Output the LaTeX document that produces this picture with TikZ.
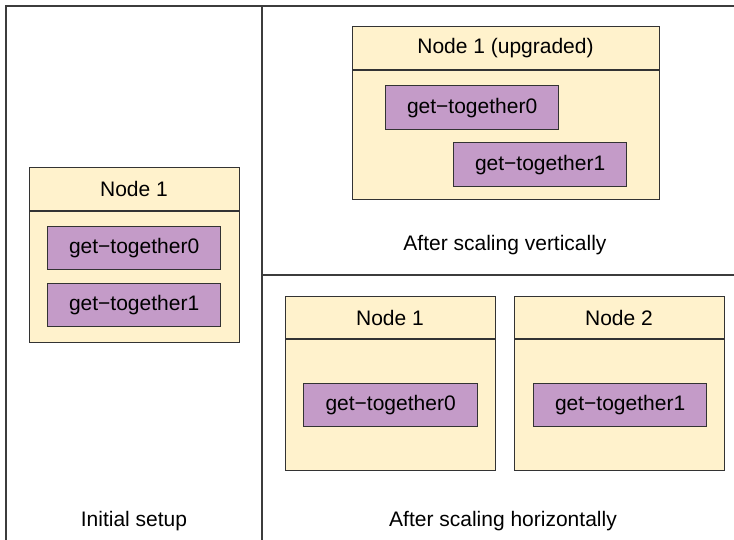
\documentclass[tikz,border=0pt]{standalone}
\usepackage{fontspec}
\setmainfont{Liberation Sans}
\definecolor{creamfill}{RGB}{255,242,204}
\definecolor{purplefill}{RGB}{196,155,200}
\definecolor{linegray}{RGB}{60,60,60}
\begin{document}
\begin{tikzpicture}[x=1pt,y=-1pt,
  font=\fontsize{21}{24}\selectfont,
  frameline/.style={draw=linegray,line width=1.5pt},
  hostbox/.style={draw=black!80,line width=1.2pt,fill=creamfill,anchor=north west,inner sep=0pt},
  shardbox/.style={draw=black!80,line width=1.2pt,fill=purplefill,anchor=north west,inner sep=0pt},
  lbl/.style={inner sep=0pt}]
\useasboundingbox (0,0) rectangle (734,540);
% frame
\draw[frameline] (6,540) -- (6,6) -- (734,6);
\draw[frameline] (262,6) -- (262,540);
\draw[frameline] (262,275) -- (734,275);

% Initial setup
\node[hostbox,minimum width=210pt,minimum height=175pt] (a) at (29,167) {};
\draw[draw=black!80,line width=1.2pt] (29,211) -- (239,211);
\node[lbl] (at) at (134,189) {Node 1};
\node[shardbox,minimum width=173pt,minimum height=43pt] (a0) at (47,226) {};
\node[lbl] at (a0.center) {get−together0};
\node[shardbox,minimum width=173pt,minimum height=43pt] (a1) at (47,283) {};
\node[lbl] at (a1.center) {get−together1};
\node[lbl] (cap1) at (134,521) {Initial setup};

% After scaling vertically
\node[hostbox,minimum width=307pt,minimum height=173pt] (b) at (352,26) {};
\draw[draw=black!80,line width=1.2pt] (352,70) -- (659,70);
\node[lbl] (bt) at (505.5,48) {Node 1 (upgraded)};
\node[shardbox,minimum width=173pt,minimum height=44pt] (b0) at (385,85) {};
\node[lbl] at (b0.center) {get−together0};
\node[shardbox,minimum width=173pt,minimum height=44pt] (b1) at (453,142) {};
\node[lbl] at (b1.center) {get−together1};
\node[lbl] (cap2) at (505,245) {After scaling vertically};

% After scaling horizontally
\node[hostbox,minimum width=210pt,minimum height=174pt] (c) at (285,296) {};
\draw[draw=black!80,line width=1.2pt] (285,339) -- (495,339);
\node[lbl] (ct) at (390,318) {Node 1};
\node[shardbox,minimum width=174pt,minimum height=43pt] (c0) at (303,383) {};
\node[lbl] at (c0.center) {get−together0};

\node[hostbox,minimum width=210pt,minimum height=174pt] (d) at (514,296) {};
\draw[draw=black!80,line width=1.2pt] (514,339) -- (724,339);
\node[lbl] (dt) at (619,318) {Node 2};
\node[shardbox,minimum width=173pt,minimum height=43pt] (d1) at (533,383) {};
\node[lbl] at (d1.center) {get−together1};
\node[lbl] (cap3) at (503,521) {After scaling horizontally};
\end{tikzpicture}
\end{document}
